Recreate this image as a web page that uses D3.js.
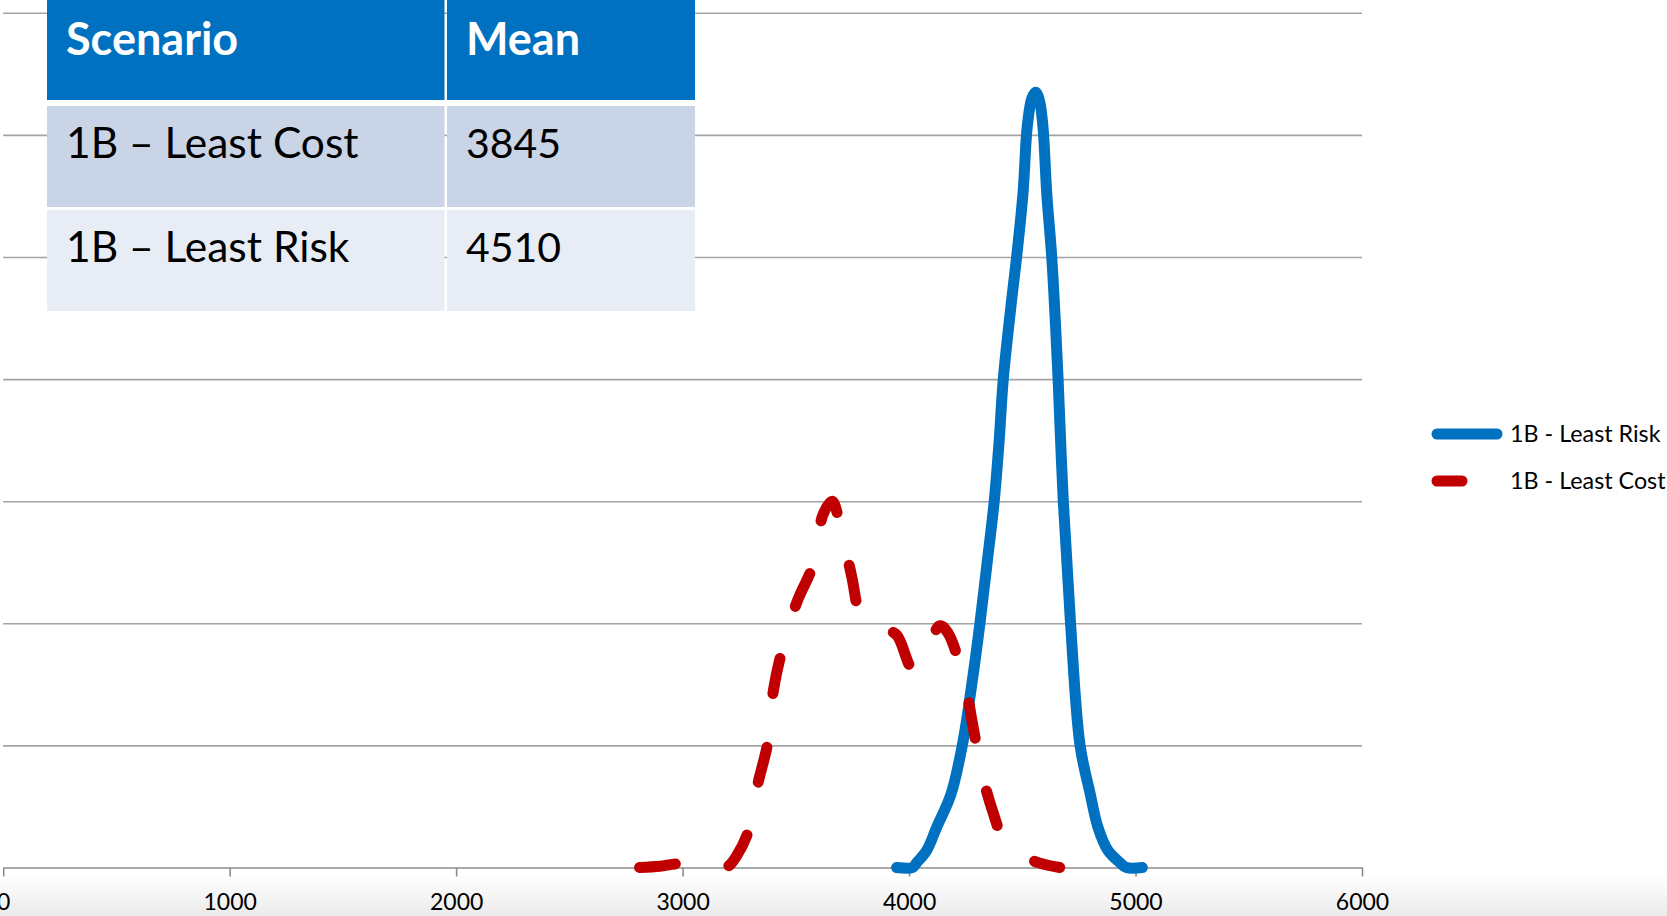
<!DOCTYPE html>
<html>
<head>
<meta charset="utf-8">
<script src="https://cdn.jsdelivr.net/npm/d3@7"></script>
<style>
  body { margin: 0; background: #fff; }
  svg { display: block; font-family: Lato, "Open Sans", sans-serif; }
</style>
</head>
<body>
<svg width="1667" height="916"></svg>
<script>
// series: [value, relative frequency] (y in gridline units)
var leastRisk = [[3945,0],[4015,0],[4034,0.04],[4078,0.14],[4122,0.33],[4185,0.6],[4235,1.0],[4277,1.5],
  [4313,2.0],[4345,2.5],[4376,3.0],[4398,3.5],[4416,4.0],[4453,4.65],[4475,5.0],[4503,5.52],[4522,6.07],[4542,6.3],
  [4559,6.35],[4576,6.28],[4591,6.07],[4608,5.52],[4630,5.0],[4645,4.5],[4658,4.0],[4681,3.0],[4713,2.0],
  [4755,1.0],[4799,0.61],[4834,0.33],[4878,0.14],[4931,0.04],[4960,0],[5030,0]];
var leastCost = [[2810,0],[2900,0.01],[2975,0.03],[3060,0.01],[3150,0],[3200,0.01],[3240,0.1],[3289,0.29],
  [3333,0.69],[3377,1.03],[3400,1.44],[3439,1.78],[3504,2.17],[3576,2.48],[3620,2.89],[3660,3.0],[3696,2.8],
  [3747,2.38],[3784,2.07],[3830,1.98],[3900,1.95],[3947,1.9],[4018,1.62],[4070,1.75],[4136,1.98],[4172,1.92],
  [4247,1.5],[4280,1.18],[4322,0.77],[4371,0.45],[4420,0.22],[4500,0.1],[4570,0.04],[4665,0]];
var xTicks = [0,1000,2000,3000,4000,5000,6000];
var yTicks = [1,2,3,4,5,6,7];
var seriesNames = ["1B - Least Risk","1B - Least Cost"];
var tableHead = ["Scenario","Mean"];
var tableRows = [["1B \u2013 Least Cost","3845"],["1B \u2013 Least Risk","4510"]];

var svg = d3.select("svg"),
    wth = +svg.attr("width"),
    hgt = +svg.attr("height");

var x = d3.scaleLinear().domain([0,6000]).range([3.2,1362]);
var y = d3.scaleLinear().domain([0,7]).range([867.5,12.8]);

// light grey band under the axis
var grad = svg.append("defs").append("linearGradient")
    .attr("id","band").attr("x1",0).attr("y1",0).attr("x2",0).attr("y2",1);
grad.append("stop").attr("offset","0%").attr("stop-color","#ffffff");
grad.append("stop").attr("offset","100%").attr("stop-color","#ebebeb");
svg.append("rect").attr("x",0).attr("y",876).attr("width",wth).attr("height",hgt-876)
    .attr("fill","url(#band)");

// gridlines
var grid = svg.append("g")
    .attr("transform","translate("+x(0)+",0)")
    .call(d3.axisLeft(y).tickValues(yTicks).tickSize(-(x(6000)-x(0))).tickFormat(""));
grid.select(".domain").remove();
grid.selectAll("line").attr("stroke","#a3a3a3").attr("stroke-width",1.6);

// x axis
var xa = svg.append("g")
    .attr("transform","translate(0,"+y(0)+")")
    .call(d3.axisBottom(x).tickValues(xTicks).tickSize(9).tickSizeOuter(0).tickPadding(17).tickFormat(d3.format("d")));
xa.select(".domain").attr("stroke","#8c8c8c").attr("stroke-width",1.6);
xa.selectAll(".tick line").attr("stroke","#8c8c8c").attr("stroke-width",1.6);
xa.selectAll("text").attr("font-size",23).attr("fill","#000").attr("font-family","Lato");

var line = d3.line()
    .x(function(d){return x(d[0]);})
    .y(function(d){return y(d[1]);})
    .curve(d3.curveCatmullRom.alpha(0.5));

svg.append("path").datum(leastRisk)
    .attr("d",line).attr("fill","none")
    .attr("stroke","#0070c0").attr("stroke-width",11)
    .attr("stroke-linecap","round").attr("stroke-linejoin","round");
svg.append("path").datum(leastCost)
    .attr("d",line).attr("fill","none")
    .attr("stroke","#c00000").attr("stroke-width",11)
    .attr("stroke-dasharray","36 54")
    .attr("stroke-linecap","round").attr("stroke-linejoin","round");

// legend
var lg = svg.append("g");
var lgY = [434, 481];
lg.append("line").attr("x1",1437).attr("x2",1497).attr("y1",lgY[0]).attr("y2",lgY[0])
    .attr("stroke","#0070c0").attr("stroke-width",11).attr("stroke-linecap","round");
lg.append("line").attr("x1",1437).attr("x2",1462).attr("y1",lgY[1]).attr("y2",lgY[1])
    .attr("stroke","#c00000").attr("stroke-width",11).attr("stroke-linecap","round");
lg.selectAll("text").data(seriesNames).enter().append("text")
    .attr("x",1510).attr("y",function(d,i){return lgY[i];})
    .attr("dy","0.35em").attr("font-size",23.3).attr("fill","#000")
    .text(function(d){return d;});

// stats table
var colX = [47,447], colW = [397.5,248];
var rowY = [0,106,210], rowH = [100,101,101];
var rowFill = ["#0070c0","#c9d4e7","#e8ecf5"];
var bodySize = [42.5,41];
var tb = svg.append("g");
var allRows = [tableHead].concat(tableRows);
allRows.forEach(function(r,i){
  r.forEach(function(c,j){
    tb.append("rect").attr("x",colX[j]).attr("y",rowY[i])
      .attr("width",colW[j]).attr("height",rowH[i]).attr("fill",rowFill[i]);
    tb.append("text").attr("x",colX[j]+19).attr("y",rowY[i]+(i==0?55:52))
      .attr("font-size",i==0?45:bodySize[j])
      .attr("font-weight",i==0?"bold":"normal")
      .attr("fill",i==0?"#fff":"#000")
      .text(c);
  });
});
</script>
</body>
</html>
